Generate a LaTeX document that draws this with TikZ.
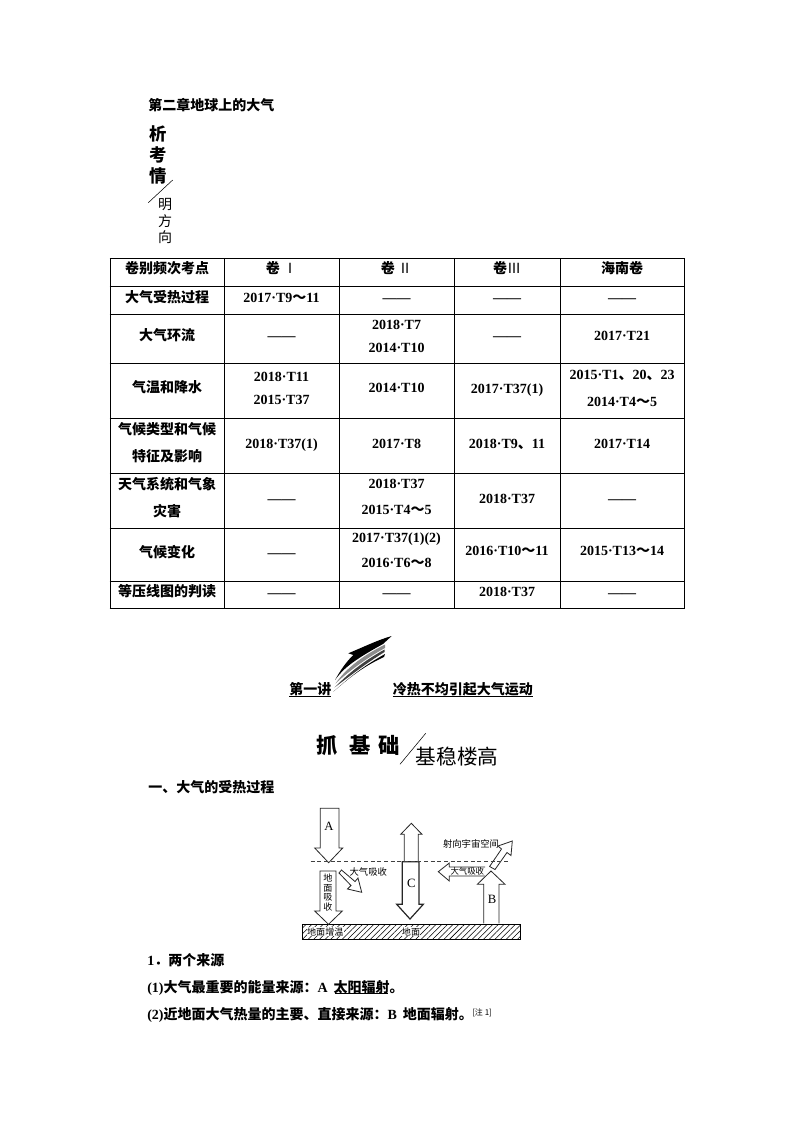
\documentclass[tikz,border=0pt]{standalone}
\usepackage{fontspec}
\setmainfont{Liberation Serif}
\newfontfamily\cjk{Noto Sans CJK SC}
\usetikzlibrary{patterns.meta}
\newcommand{\nm}[1]{{\rmfamily\bfseries #1}}
\newcommand{\wv}{{\cjk\bfseries ～}}
\newcommand{\dn}{{\cjk\bfseries 、}}
\tikzset{
  body/.style={font=\cjk\bfseries\fontsize{10.5pt}{12pt}\selectfont,inner sep=0pt,text height=9.7pt,text depth=1pt},
  cell/.style={body,anchor=center},
  left/.style={body,anchor=west},
  thin label/.style={font=\cjk\fontsize{#1}{#1}\selectfont,inner sep=0pt,anchor=center},
  big/.style={font=\cjk\bfseries\fontsize{#1}{#1}\selectfont,inner sep=0pt,anchor=center},
  rule/.style={line width=0.75pt,black},
  blockarrow/.style={draw=black!85,line width=0.6pt,fill=white,line join=miter},
  dia/.style={font=\rmfamily\fontsize{9.5pt}{10pt}\selectfont,inner sep=0pt,anchor=center}
}
\begin{document}
\begin{tikzpicture}[x=0.75pt,y=-0.75pt]
\useasboundingbox (0,0) rectangle (794,1123);
\fill[white] (0,0) rectangle (794,1123);
% header
\node[left] (title) at (148,105) {第二章地球上的大气};
\node[big=13pt] (xi) at (158,134) {析};
\node[big=13pt] (kao) at (158,155) {考};
\node[big=13pt] (qing) at (158,175.5) {情};
\draw[line width=0.4pt] (172.7,180) -- (148.3,202.7);
\node[thin label=10.5pt] (ming) at (165,204.5) {明};
\node[thin label=10.5pt] (fang) at (165,221.5) {方};
\node[thin label=10.5pt] (xiang) at (165,237.5) {向};
% table rules
\foreach \x in {110,224.5,339.5,454,560.5,684.5} \draw[rule] (\x,258) -- (\x,608);
\foreach \y in {258,286,314,363,418,473.5,528,581,608} \draw[rule] (109.6,\y) -- (684.9,\y);
% row 1
\node[cell] (r1a) at (167,268) {卷别频次考点};
\node[cell] (r1b) at (281.5,268) {卷 {\mdseries Ⅰ}};
\node[cell] (r1c) at (396.5,268) {卷 {\mdseries Ⅱ}};
\node[cell] (r1d) at (507,268) {卷{\mdseries Ⅲ}};
\node[cell] (r1e) at (622,268) {海南卷};
% row 2
\node[cell] (r2a) at (167,297) {大气受热过程};
\node[cell] (r2b) at (281.5,296.5) {\nm{2017·T9}\wv\nm{11}};
\node[cell] (r2c) at (396.5,297) {\nm{——}};
\node[cell] (r2d) at (507,297) {\nm{——}};
\node[cell] (r2e) at (622,297) {\nm{——}};
% row 3
\node[cell] (r3a) at (167,334.5) {大气环流};
\node[cell] (r3b) at (281.5,335) {\nm{——}};
\node[cell] (r3c1) at (396.5,324) {\nm{2018·T7}};
\node[cell] (r3c2) at (396.5,347) {\nm{2014·T10}};
\node[cell] (r3d) at (507,335) {\nm{——}};
\node[cell] (r3e) at (622,335) {\nm{2017·T21}};
% row 4
\node[cell] (r4a) at (167,387) {气温和降水};
\node[cell] (r4b1) at (281.5,375.5) {\nm{2018·T11}};
\node[cell] (r4b2) at (281.5,399) {\nm{2015·T37}};
\node[cell] (r4c) at (396.5,387) {\nm{2014·T10}};
\node[cell] (r4d) at (507,387.5) {\nm{2017·T37(1)}};
\node[cell] (r4e1) at (622,374) {\nm{2015·T1}\dn\nm{20}\dn\nm{23}};
\node[cell] (r4e2) at (622,400.5) {\nm{2014·T4}\wv\nm{5}};
% row 5
\node[cell] (r5a1) at (167,429) {气候类型和气候};
\node[cell] (r5a2) at (167,456) {特征及影响};
\node[cell] (r5b) at (281.5,442.5) {\nm{2018·T37(1)}};
\node[cell] (r5c) at (396.5,442.5) {\nm{2017·T8}};
\node[cell] (r5d) at (507,442.5) {\nm{2018·T9}\dn\nm{11}};
\node[cell] (r5e) at (622,442.5) {\nm{2017·T14}};
% row 6
\node[cell] (r6a1) at (167,483.5) {天气系统和气象};
\node[cell] (r6a2) at (167,510.5) {灾害};
\node[cell] (r6b) at (281.5,497.5) {\nm{——}};
\node[cell] (r6c1) at (396.5,483) {\nm{2018·T37}};
\node[cell] (r6c2) at (396.5,509) {\nm{2015·T4}\wv\nm{5}};
\node[cell] (r6d) at (507,497.5) {\nm{2018·T37}};
\node[cell] (r6e) at (622,497.5) {\nm{——}};
% row 7
\node[cell] (r7a) at (167,551.5) {气候变化};
\node[cell] (r7b) at (281.5,552) {\nm{——}};
\node[cell] (r7c1) at (396.5,536.5) {\nm{2017·T37(1)(2)}};
\node[cell] (r7c2) at (396.5,561.5) {\nm{2016·T6}\wv\nm{8}};
\node[cell] (r7d) at (507,550) {\nm{2016·T10}\wv\nm{11}};
\node[cell] (r7e) at (622,550) {\nm{2015·T13}\wv\nm{14}};
% row 8
\node[cell] (r8a) at (167,591) {等压线图的判读};
\node[cell] (r8b) at (281.5,592) {\nm{——}};
\node[cell] (r8c) at (396.5,592) {\nm{——}};
\node[cell] (r8d) at (507,591) {\nm{2018·T37}};
\node[cell] (r8e) at (622,592) {\nm{——}};
% swoosh
\fill[black] (391.7,636) .. controls (378,640) and (368,645) .. (348.3,653.3)
  -- (353.3,655) .. controls (346,662) and (340,671) .. (335,680)
  .. controls (343,669) and (352,661) .. (383,644) -- cycle;
\fill[black!45] (335.5,683.5) .. controls (345,670) and (360,657) .. (385,644.5)
  -- (385,648) .. controls (365,659) and (348,672) .. cycle;
\fill[black!75] (334.5,687.5) .. controls (348,674) and (362,662) .. (384.5,649.5)
  -- (384.5,652) .. controls (365,664) and (350,676) .. cycle;
\fill[black] (333.3,691.7) .. controls (348,679) and (360,668) .. (385,654)
  .. controls (385,655) and (385,656) .. (384,657)
  .. controls (362,667) and (348,679) .. cycle;
% lecture title
\node[left] (lecL) at (289,689) {第一讲};
\node[left] (lecT) at (392.7,689) {冷热不均引起大气运动};
\draw[line width=0.7pt] (289,696) -- (330.7,696);
\draw[line width=0.7pt] (392.7,696) -- (533.3,696);
% section banner
\node[big=16pt] (zhua) at (327.3,745) {抓};
\node[big=16pt] (ji) at (360,745) {基};
\node[big=16pt] (chu) at (388.7,745) {础};
\draw[line width=0.4pt] (425.7,733.3) -- (400,764.3);
\node[thin label=15.5pt,anchor=west] (jiwen) at (415.5,757) {基稳楼高};
\node[left] (sec1) at (148,787) {一、大气的受热过程};
% diagram: ground
\path[pattern={Lines[angle=45,distance=3pt,line width=0.4pt]},draw=black,line width=0.6pt] (302.7,924.3) rectangle (520.7,939);
\node[dia,fill=white,font=\cjk\fontsize{6.8pt}{7pt}\selectfont,inner sep=0.2pt] (warm) at (325.3,931.7) {地面增温};
\node[dia,fill=white,font=\cjk\fontsize{6.8pt}{7pt}\selectfont,inner sep=0.2pt] (ground) at (411,931.7) {地面};
% dashed level
\coordinate (dashL) at (310.7,861.7);
\coordinate (dashR) at (508,861.7);
% arrows
\draw[blockarrow] (320.3,808.3) -- (339,808.3) -- (339,848) -- (342.7,848) -- (328.7,862.7) -- (314.7,848) -- (320.3,848) -- cycle;
\draw[blockarrow] (320,871) -- (336,871) -- (336,911) -- (342.3,911) -- (328.5,924.3) -- (314.7,911) -- (320,911) -- cycle;
\draw[blockarrow] (404.3,861.7) -- (404.3,834.3) -- (400.7,834.3) -- (411.3,823.3) -- (422,834.3) -- (418.3,834.3) -- (418.3,861.7) -- cycle;
\draw[blockarrow,line width=0.9pt] (402.3,861.7) -- (419,861.7) -- (419,904.3) -- (423.3,904.3) -- (410,919) -- (396.7,904.3) -- (402.3,904.3) -- cycle;
\draw[blockarrow] (485,867) -- (449.3,867) -- (449.3,863) -- (438.3,871.7) -- (449.3,881) -- (449.3,876) -- (485,876);
\draw[blockarrow] (483.7,923.3) -- (483.7,884.3) -- (477.3,884.3) -- (491,871) -- (505,884.3) -- (499,884.3) -- (499,923.3);
\draw[blockarrow] (489.6,866.5) -- (501.5,849) -- (498,846) -- (512.3,841) -- (511,855.5) -- (507,852.5) -- (495,869.5) -- cycle;
\draw[blockarrow] (339,873) -- (341.5,870) -- (355,881.5) -- (358,878) -- (361.7,892.3) -- (347.5,889) -- (351,885.5) -- cycle;
\draw[densely dashed,line width=0.6pt,black!75] (dashL) -- (dashR);
% diagram labels
\node[dia] (lA) at (329,826) {A};
\node[dia] (lC) at (411.3,883) {C};
\node[dia] (lB) at (492,899.5) {B};
\node[thin label=6.8pt] (d1) at (328,878) {地};
\node[thin label=6.8pt] (d2) at (328,888) {面};
\node[thin label=6.8pt] (d3) at (328,897.5) {吸};
\node[thin label=6.8pt] (d4) at (328,907) {收};
\node[thin label=7pt] (atm1) at (368.3,872.3) {大气吸收};
\node[thin label=6.3pt] (atm2) at (467.3,871.3) {大气吸收};
\node[thin label=7pt] (space) at (471,844) {射向宇宙空间};
% body text
\node[left] (p1) at (147,959.5) {\nm{1}．两个来源};
\node[left] (p2) at (147,986.5) {\nm{(1)}大气最重要的能量来源：\nm{A}\hspace{2pt} 太阳辐射。};
\draw[line width=0.7pt] (335,993) -- (388,993);
\node[left] (p3) at (147,1013.5) {\nm{(2)}近地面大气热量的主要、直接来源：\nm{B}\hspace{2pt} 地面辐射。};
\node[thin label=6pt,anchor=west] (note) at (472,1013) {[注 1]};
\end{tikzpicture}
\end{document}
